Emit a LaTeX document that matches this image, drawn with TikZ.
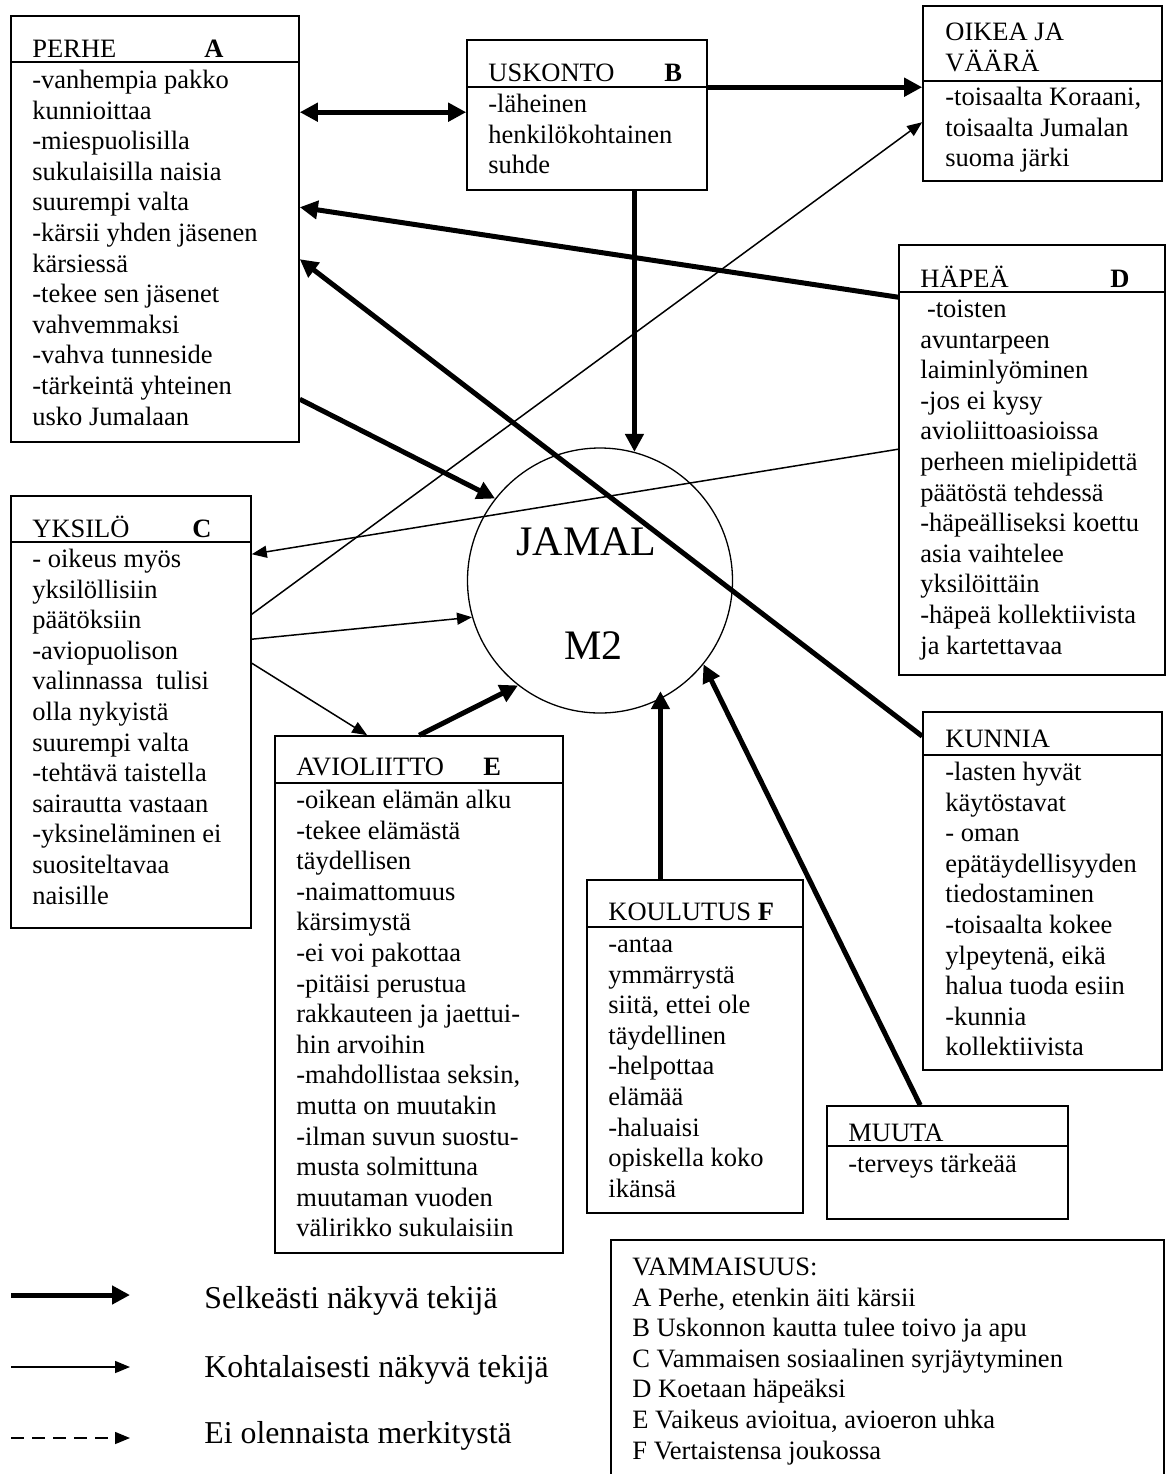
\documentclass[tikz,border=0pt]{standalone}
\usepackage{fontspec}
\setmainfont{Liberation Serif}
\usetikzlibrary{arrows.meta,calc,fit}

\newcommand\bodyfs{\fontsize{13.25pt}{15.3pt}\selectfont}
\newcommand\legfs{\fontsize{15.9pt}{18pt}\selectfont}
\newcommand\bigfs{\fontsize{21pt}{24pt}\selectfont}
\newcommand\topst{\rule{0pt}{12pt}}

\tikzset{
  box/.style={draw, line width=0.8pt, inner sep=0pt, rectangle},
  divider/.style={line width=0.8pt},
  txt/.style={inner sep=0pt, align=left, font=\bodyfs, anchor=north west},
  hdr/.style={inner sep=0pt, font=\bodyfs, anchor=base west},
  tag/.style={inner sep=0pt, font=\bodyfs\bfseries, anchor=base west},
  legtxt/.style={inner sep=0pt, font=\legfs, anchor=base west},
  strong/.style={line width=2.5pt, -{Triangle[length=9pt,width=9pt]}},
  weak/.style={line width=0.75pt, -{Triangle[length=7.5pt,width=6pt]}},
  faint/.style={weak, dash pattern=on 6.5pt off 4pt},
}

\begin{document}
\begin{tikzpicture}[x=0.5pt,y=-0.5pt]
\useasboundingbox (0,0) rectangle (1166,1474);

% ---------- boxes ----------
\node[box, fit={(11,16) (299,442)}] (A) {};
\node[box, fit={(467,40) (707,190)}] (B) {};
\node[box, fit={(923,6) (1162,181)}] (OJV) {};
\node[box, fit={(899,245) (1165,675)}] (D) {};
\node[box, fit={(11,496) (251,928)}] (C) {};
\node[box, fit={(275,736) (563,1253)}] (E) {};
\node[box, fit={(587,880) (803,1213)}] (F) {};
\node[box, fit={(923,712) (1162,1070)}] (K) {};
\node[box, fit={(827,1106) (1068,1219)}] (M) {};
\node[box, fit={(611,1240) (1164,1477)}] (V) {};

% header dividers
\draw[divider] ($(A.north west)+(0,47)$) -- ($(A.north east)+(0,47)$);
\draw[divider] ($(B.north west)+(0,48)$) -- ($(B.north east)+(0,48)$);
\draw[divider] ($(OJV.north west)+(0,76)$) -- ($(OJV.north east)+(0,76)$);
\draw[divider] ($(D.north west)+(0,48)$) -- ($(D.north east)+(0,48)$);
\draw[divider] ($(C.north west)+(0,47)$) -- ($(C.north east)+(0,47)$);
\draw[divider] ($(E.north west)+(0,48)$) -- ($(E.north east)+(0,48)$);
\draw[divider] ($(F.north west)+(0,48)$) -- ($(F.north east)+(0,48)$);
\draw[divider] ($(K.north west)+(0,44)$) -- ($(K.north east)+(0,44)$);
\draw[divider] ($(M.north west)+(0,41)$) -- ($(M.north east)+(0,41)$);

% central circle
\node[circle, draw, line width=0.65pt, minimum size=132.5pt, inner sep=0pt] (J) at (600,580.5) {};
\node[inner sep=0pt, font=\bigfs, anchor=base west] (Jname) at (516,555) {JAMAL};
\node[inner sep=0pt, font=\bigfs, anchor=base west] (Jcode) at (564,659) {M2};

% ---------- headers ----------
\node[hdr] (Ah) at (32,57) {PERHE};
\node[tag] (At) at (204,57) {A};
\node[hdr] (Bh) at (488,81) {USKONTO};
\node[tag] (Bt) at (664,81) {B};
\node[txt] (OJVh) at (945,16) {\topst OIKEA JA\\VÄÄRÄ};
\node[hdr] (Dh) at (920,287) {HÄPEÄ};
\node[tag] (Dt) at (1110,287) {D};
\node[hdr] (Ch) at (32,537) {YKSILÖ};
\node[tag] (Ct) at (192,537) {C};
\node[hdr] (Eh) at (296,775) {AVIOLIITTO};
\node[tag] (Et) at (483,775) {E};
\node[hdr] (Fh) at (608,920) {KOULUTUS \textbf{F}};
\node[hdr] (Kh) at (945,747) {KUNNIA};
\node[hdr] (Mh) at (848,1141) {MUUTA};

% ---------- contents ----------
\node[txt] (Ab) at (32,64) {\topst -vanhempia pakko\\kunnioittaa\\-miespuolisilla\\sukulaisilla naisia\\suurempi valta\\-kärsii yhden jäsenen\\kärsiessä\\-tekee sen jäsenet\\vahvemmaksi\\-vahva tunneside\\-tärkeintä yhteinen\\usko Jumalaan};
\node[txt] (Bb) at (488,88) {\topst -läheinen\\henkilökohtainen\\suhde};
\node[txt] (OJVb) at (945,81) {\topst -toisaalta Koraani,\\toisaalta Jumalan\\suoma järki};
\node[txt] (Db) at (920,293) {\topst\ -toisten\\avuntarpeen\\laiminlyöminen\\-jos ei kysy\\avioliittoasioissa\\perheen mielipidettä\\päätöstä tehdessä\\-häpeälliseksi koettu\\asia vaihtelee\\yksilöittäin\\-häpeä kollektiivista\\ja kartettavaa};
\node[txt] (Cb) at (32,543) {\topst - oikeus myös\\yksilöllisiin\\päätöksiin\\-aviopuolison\\valinnassa\ \ tulisi\\olla nykyistä\\suurempi valta\\-tehtävä taistella\\sairautta vastaan\\-yksineläminen ei\\suositeltavaa\\naisille};
\node[txt] (Eb) at (296,784) {\topst -oikean elämän alku\\-tekee elämästä\\täydellisen\\-naimattomuus\\kärsimystä\\-ei voi pakottaa\\-pitäisi perustua\\rakkauteen ja jaettui-\\hin arvoihin\\-mahdollistaa seksin,\\mutta on muutakin\\-ilman suvun suostu-\\musta solmittuna\\muutaman vuoden\\välirikko sukulaisiin};
\node[txt] (Fb) at (608,928) {\topst -antaa\\ymmärrystä\\siitä, ettei ole\\täydellinen\\-helpottaa\\elämää\\-haluaisi\\opiskella koko\\ikänsä};
\node[txt] (Kb) at (945,756) {\topst -lasten hyvät\\käytöstavat\\- oman\\epätäydellisyyden\\tiedostaminen\\-toisaalta kokee\\ylpeytenä, eikä\\halua tuoda esiin\\-kunnia\\kollektiivista};
\node[txt] (Mb) at (848,1148) {\topst -terveys tärkeää};
\node[txt] (Vb) at (632,1251) {\topst VAMMAISUUS:\\A Perhe, etenkin äiti kärsii\\B Uskonnon kautta tulee toivo ja apu\\C Vammaisen sosiaalinen syrjäytyminen\\D Koetaan häpeäksi\\E Vaikeus avioitua, avioeron uhka\\F Vertaistensa joukossa};

% ---------- connectors ----------
% strong influences
\draw[line width=2.5pt, {Triangle[length=9pt,width=9pt]}-{Triangle[length=9pt,width=9pt]}]
  ($(A.north east)+(0,97)$) -- ($(B.north west)+(0,73)$);
\draw[strong] ($(B.north east)+(0,48)$) -- ($(OJV.north west)+(0,82)$);
\draw[strong] (J.75 |- B.south) -- (J.75);
\draw[strong] ($(D.north west)+(0,53)$) -- ($(A.north east)+(0,192)$);
\draw[strong] ($(K.north west)+(0,25)$) -- ($(A.north east)+(0,244)$);
\draw[strong] ($(A.north east)+(0,384)$) -- (J.142);
\draw[strong] ($(E.north west)+(145,0)$) -- (J.232);
\draw[strong, shorten >=-4pt] (J.297 |- F.north) -- (J.297);
\draw[strong] ($(M.north west)+(94,0)$) -- (J.321);

% moderate influences
\draw[weak] ($(D.north west)+(0,205)$) -- ($(C.north east)+(0,59)$);
\draw[weak] ($(C.north east)+(0,119)$) -- ($(OJV.north west)+(0,117)$);
\draw[weak] ($(C.north east)+(0,144)$) -- (J.196);
\draw[weak] ($(C.north east)+(0,168)$) -- ($(E.north west)+(93,0)$);

% ---------- key ----------
\coordinate (k1s) at (11,1295);  \coordinate (k1e) at (130,1295);
\coordinate (k2s) at (11,1367);  \coordinate (k2e) at (130,1367);
\coordinate (k3s) at (11,1438);  \coordinate (k3e) at (130,1438);
\draw[strong] (k1s) -- (k1e);
\draw[weak] (k2s) -- (k2e);
\draw[faint] (k3s) -- (k3e);
\node[legtxt] (k1t) at (204,1308) {Selkeästi näkyvä tekijä};
\node[legtxt] (k2t) at (204,1377) {Kohtalaisesti näkyvä tekijä};
\node[legtxt] (k3t) at (204,1443) {Ei olennaista merkitystä};
\end{tikzpicture}
\end{document}
